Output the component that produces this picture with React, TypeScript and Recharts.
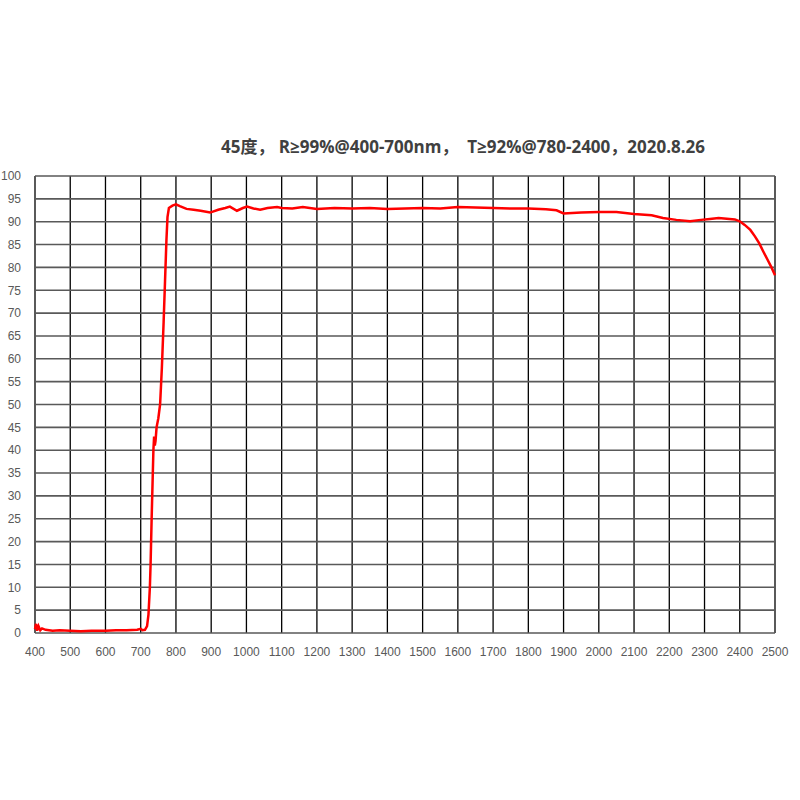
import React from 'react';
import { LineChart, Line, XAxis, YAxis, CartesianGrid } from 'recharts';

// wavelength (nm) and transmittance (%)
const wavelengths = [
  400, 403, 406, 410, 415, 420, 430, 450, 470, 500, 530, 560, 600, 630, 660, 690, 700, 705, 712,
  718, 722, 726, 728, 731, 734, 736, 738, 740, 742, 745, 750, 755, 760, 765, 769, 773, 776, 780,
  790, 800, 811, 830, 850, 870, 897, 920, 940, 953, 973, 990, 1002, 1020, 1039, 1060, 1087, 1100,
  1130, 1160, 1200, 1250, 1300, 1350, 1400, 1450, 1500, 1550, 1600, 1650, 1700, 1750, 1800, 1850,
  1880, 1900, 1950, 2000, 2050, 2100, 2150, 2182, 2220, 2259, 2290, 2315, 2340, 2386, 2400, 2414,
  2430, 2443, 2455, 2466, 2480, 2490, 2500,
];
const transmittance = [
  0.8, 2.0, 0.5, 1.5, 0.6, 1.0, 0.7, 0.5, 0.6, 0.5, 0.4, 0.5, 0.5, 0.6, 0.6, 0.7, 0.9, 0.6, 0.7,
  1.5, 4, 10, 15, 25, 34, 40, 43, 41, 42, 45, 47, 50, 58, 68, 77, 86, 91, 93,
  93.5, 93.8, 93.4, 92.8, 92.6, 92.4, 92.0, 92.6, 93.0, 93.3, 92.4, 93.0, 93.3, 92.9, 92.6, 93.0, 93.2, 93.0,
  92.9, 93.2, 92.8, 93.0, 92.9, 93.0, 92.8, 92.9, 93.0, 92.9, 93.2, 93.1, 93.0, 92.9, 92.9, 92.7,
  92.5, 91.8, 92.0, 92.1, 92.1, 91.7, 91.4, 90.8, 90.4, 90.1, 90.4, 90.6, 90.8, 90.5, 90.1, 89.3,
  88.2, 86.8, 85.3, 83.6, 81.5, 80.0, 78.3,
];

const xTicks = [
  400, 500, 600, 700, 800, 900, 1000, 1100, 1200, 1300, 1400, 1500, 1600, 1700, 1800, 1900, 2000,
  2100, 2200, 2300, 2400, 2500,
];
const yTicks = [0, 5, 10, 15, 20, 25, 30, 35, 40, 45, 50, 55, 60, 65, 70, 75, 80, 85, 90, 95, 100];

const title = '45度， R≥99%@400-700nm，  T≥92%@780-2400，2020.8.26';

const data = wavelengths.map((w, i) => ({ w, t: transmittance[i] }));

const tickStyle = { fontSize: 12, fill: '#595959', fontFamily: 'Liberation Sans, Arial, sans-serif' };

export default function App() {
  return (
    <div style={{ position: 'absolute', left: 0, top: 0, width: 800, height: 800, background: '#fff' }}>
      <div
        style={{
          position: 'absolute',
          left: 0,
          top: 133,
          width: 926,
          textAlign: 'center',
          fontSize: 17,
          fontWeight: 'bold',
          color: '#404040',
          fontFamily: '"Open Sans", "Noto Sans CJK SC", sans-serif',
          whiteSpace: 'pre',
        }}
      >
        {title}
      </div>
      <LineChart width={800} height={800} data={data} margin={{ top: 176, right: 25, bottom: 137, left: 0 }}>
        <CartesianGrid horizontal={false} stroke="#000" strokeWidth={1.3} verticalValues={xTicks} />
        <CartesianGrid vertical={false} stroke="#595959" strokeWidth={1.6} horizontalValues={yTicks} />
        <XAxis
          dataKey="w"
          type="number"
          domain={[400, 2500]}
          ticks={xTicks}
          interval={0}
          height={30}
          axisLine={false}
          tickLine={false}
          tick={tickStyle}
          tickMargin={8}
        />
        <YAxis
          type="number"
          domain={[0, 100]}
          ticks={yTicks}
          interval={0}
          width={35}
          axisLine={false}
          tickLine={false}
          tick={tickStyle}
          tickMargin={8}
        />
        <Line
          dataKey="t"
          type="linear"
          stroke="#ff0000"
          strokeWidth={2.5}
          dot={false}
          isAnimationActive={false}
        />
      </LineChart>
    </div>
  );
}
